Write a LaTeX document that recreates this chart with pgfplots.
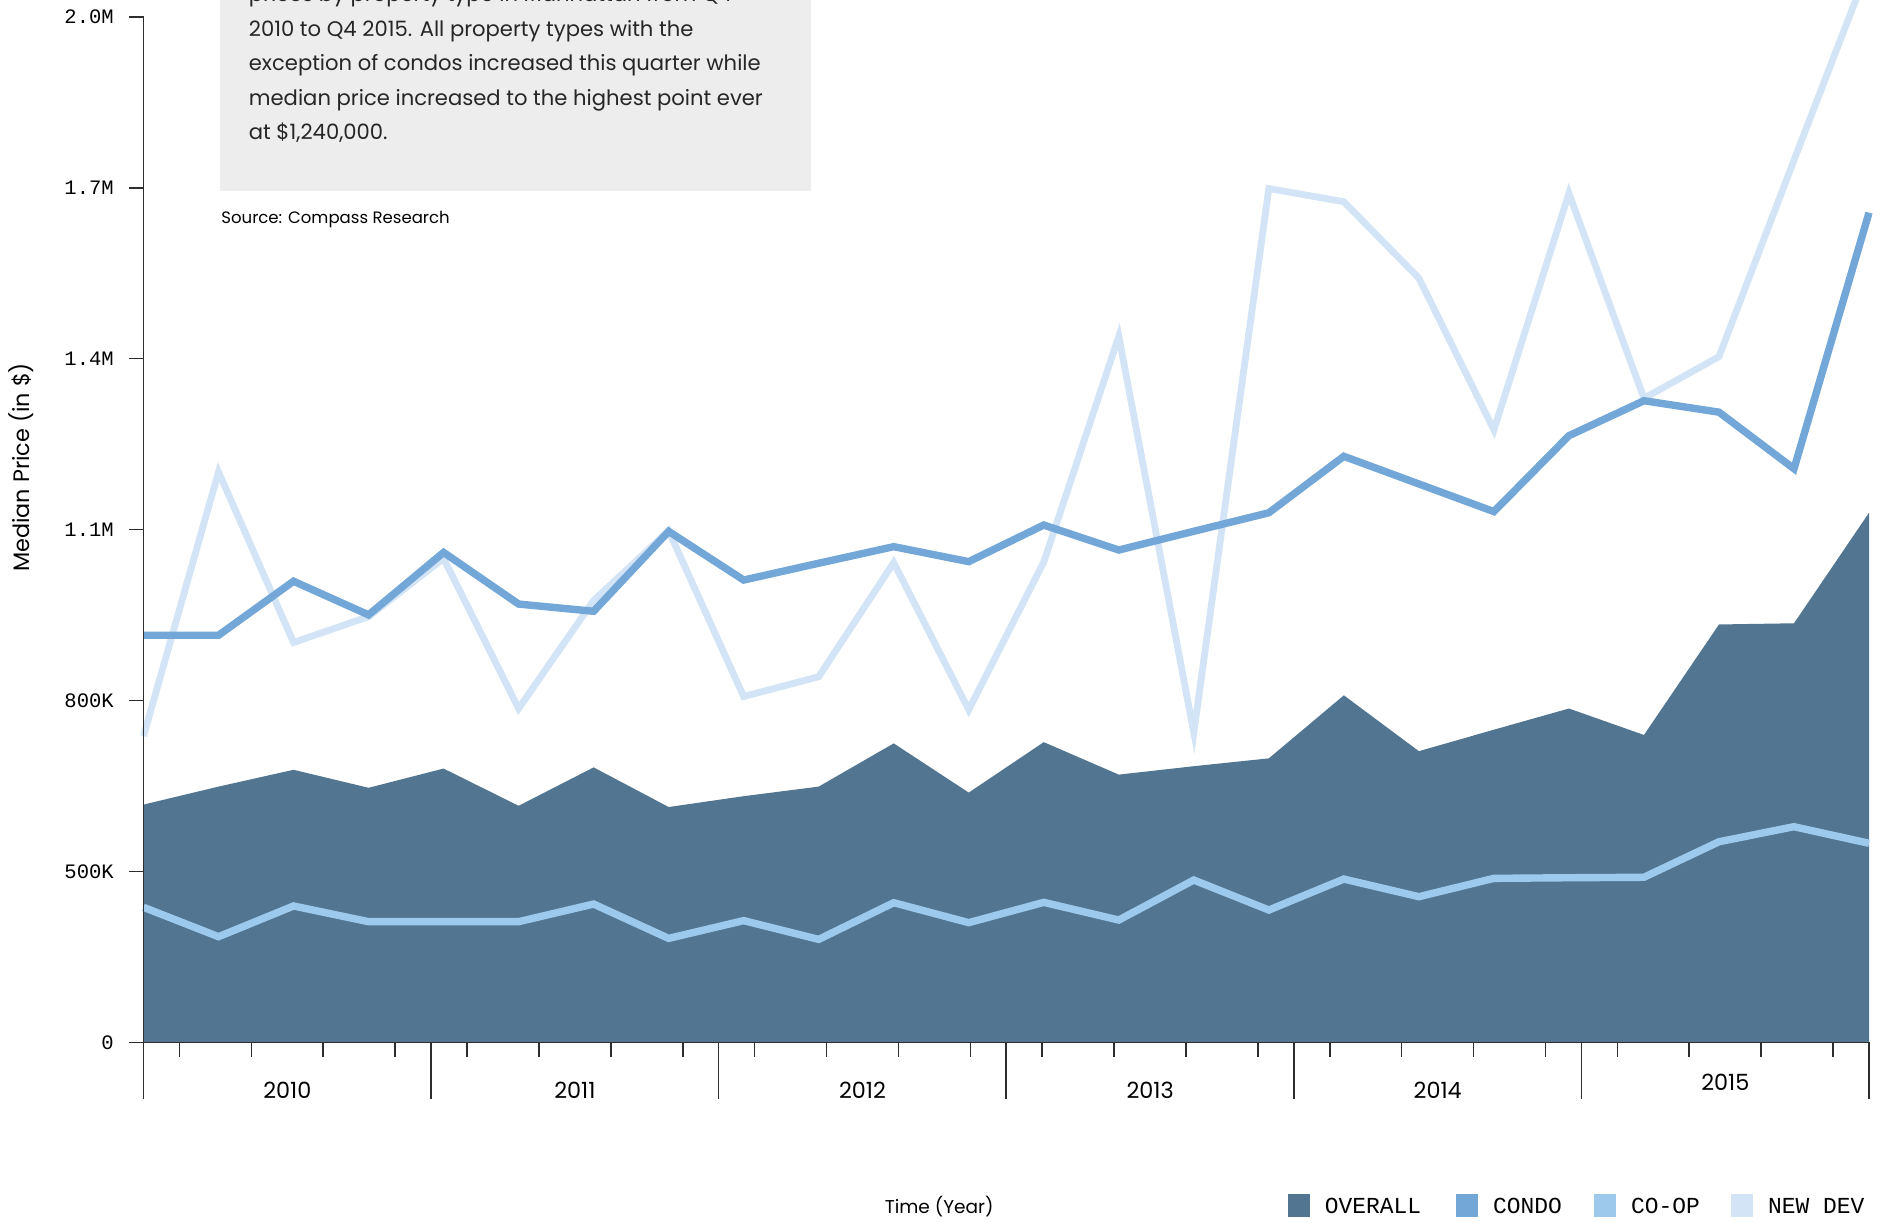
\documentclass[border=0pt]{standalone}
\usepackage{fontspec}
\setmainfont{Poppins}
\newfontfamily\monofont{Liberation Mono}
\usepackage{pgfplots}
\pgfplotsset{compat=1.18}
\definecolor{overall}{HTML}{527591}
\definecolor{condo}{HTML}{72A7D8}
\definecolor{coop}{HTML}{9DCAEC}
\definecolor{newdev}{HTML}{D2E4F5}
\definecolor{boxgray}{HTML}{EDEDED}
\definecolor{axisgray}{HTML}{2E2E2E}
\begin{document}
\begin{tikzpicture}
% text box
\fill[boxgray] (38.1bp,425.75bp) rectangle (333.6bp,560bp);
\begin{axis}[
  at={(0,0)}, anchor=south west,
  scale only axis, width=862.75bp, height=512.8bp,
  xmin=0, xmax=23, ymin=0, ymax=2,
  clip=false, axis on top,
  axis x line*=bottom, axis y line*=left,
  axis line style={draw=axisgray, line width=0.8bp, -},
  tick align=outside,
  major tick length=7.2bp,
  tick style={draw=axisgray, line width=0.8bp},
  ytick={0,0.333333,0.666667,1,1.333333,1.666667,2},
  yticklabels={0,500K,800K,1.1M,1.4M,1.7M,2.0M},
  yticklabel style={font=\monofont\fontsize{10.3}{11}\selectfont, anchor=east, inner sep=0pt, xshift=-7.5bp},
  xtick={0.47917,1.4375,2.39583,3.35417,4.3125,5.27083,6.22917,7.1875,8.14583,9.10417,10.0625,11.02083,11.97917,12.9375,13.89583,14.85417,15.8125,16.77083,17.72917,18.6875,19.64583,20.60417,21.5625,22.52083},
  xticklabels={},
  extra x ticks={0,3.833333,7.666667,11.5,15.333333,19.166667,23},
  extra x tick labels={},
  extra x tick style={major tick length=28.2bp},
]
% OVERALL
\addplot[fill=overall, draw=none] coordinates {
(0,0.4637) (1,0.4988) (2,0.5316) (3,0.4965) (4,0.5340) (5,0.4614)
(6,0.5363) (7,0.4590) (8,0.4801) (9,0.4988) (10,0.5831) (11,0.4871)
(12,0.5855) (13,0.5222) (14,0.5386) (15,0.5539) (16,0.6768) (17,0.5679)
(18,0.6098) (19,0.6511) (20,0.5995) (21,0.8150) (22,0.8173) (23,1.0328)
} \closedcycle;
% NEW DEV
\addplot[newdev, line width=3.4bp, line join=miter] coordinates {
(0,0.5972) (1,1.1124) (2,0.7799) (3,0.8302) (4,0.9438) (5,0.6511)
(6,0.8618) (7,0.9977) (8,0.6745) (9,0.7131) (10,0.9356) (11,0.6487)
(12,0.9368) (13,1.3770) (14,0.6042) (15,1.6651) (16,1.6393) (17,1.4904)
(18,1.1944) (19,1.6557) (20,1.2560) (21,1.3372) (22,1.7204) (23,2.0998)
};
% CONDO
\addplot[condo, line width=3.7bp, line join=miter] coordinates {
(0,0.7939) (1,0.7939) (2,0.8993) (3,0.8337) (4,0.9555) (5,0.8548)
(6,0.8407) (7,0.9965) (8,0.9016) (9,0.9344) (10,0.9667) (11,0.9375)
(12,1.0089) (13,0.9602) (14,0.9967) (15,1.0328) (16,1.1429) (17,1.0890)
(18,1.0351) (19,1.1831) (20,1.2513) (21,1.2290) (22,1.1187) (23,1.6180)
};
% CO-OP
\addplot[coop, line width=3.7bp, line join=miter] coordinates {
(0,0.2635) (1,0.2061) (2,0.2660) (3,0.2354) (4,0.2354) (5,0.2354)
(6,0.2698) (7,0.2028) (8,0.2375) (9,0.2009) (10,0.2724) (11,0.2335)
(12,0.2731) (13,0.2386) (14,0.3166) (15,0.2581) (16,0.3185) (17,0.2841)
(18,0.3199) (19,0.3211) (20,0.3220) (21,0.3913) (22,0.4206) (23,0.3883)
};
\end{axis}
% year labels
\begin{scope}[every node/.style={inner sep=0pt, font=\fontsize{11.2}{12}\selectfont}]
\node at (71.9bp,-24bp) {2010};
\node at (215.7bp,-24bp) {2011};
\node at (359.5bp,-24bp) {2012};
\node at (503.3bp,-24bp) {2013};
\node at (647.1bp,-24bp) {2014};
\node at (790.9bp,-19.8bp) {2015};
\end{scope}
% box text
\begin{scope}[every node/.style={anchor=west, inner sep=0pt, text height=1.6ex, text depth=0.4ex, font=\fontsize{10.6}{12}\selectfont, text=black!85}]
\node at (52.5bp,523.6bp) {prices by property type in Manhattan from Q4};
\node at (52.5bp,506.3bp) {2010 to Q4 2015. All property types with the};
\node at (52.5bp,489.1bp) {exception of condos increased this quarter while};
\node at (52.5bp,471.8bp) {median price increased to the highest point ever};
\node at (52.5bp,454.6bp) {at \$1,240,000.};
\end{scope}
\node[anchor=west, inner sep=0pt, font=\fontsize{8.3}{10}\selectfont] at (38.75bp,411.3bp) {Source: Compass Research};
% axis titles
\node[rotate=90, inner sep=0pt, font=\fontsize{11.2}{12}\selectfont] at (-60.95bp,287.5bp) {Median Price (in \$)};
\node[inner sep=0pt, font=\fontsize{9.3}{10}\selectfont] at (397.8bp,-82.3bp) {Time (Year)};
% legend
\begin{scope}[every node/.style={anchor=west, inner sep=0pt, font=\monofont\fontsize{11.5}{12}\selectfont}]
\fill[overall] (572bp,-87.35bp) rectangle (583.4bp,-75.95bp);
\node at (590.5bp,-81.65bp) {OVERALL};
\fill[condo] (656bp,-87.35bp) rectangle (667.4bp,-75.95bp);
\node at (674.6bp,-81.65bp) {CONDO};
\fill[coop] (725bp,-87.35bp) rectangle (736.4bp,-75.95bp);
\node at (743.6bp,-81.65bp) {CO-OP};
\fill[newdev] (793.5bp,-87.35bp) rectangle (804.9bp,-75.95bp);
\node at (812.1bp,-81.65bp) {NEW DEV};
\end{scope}
\pgfresetboundingbox
\useasboundingbox (-71.75bp,-89.8bp) rectangle (869.75bp,521.2bp);
\end{tikzpicture}
\end{document}
